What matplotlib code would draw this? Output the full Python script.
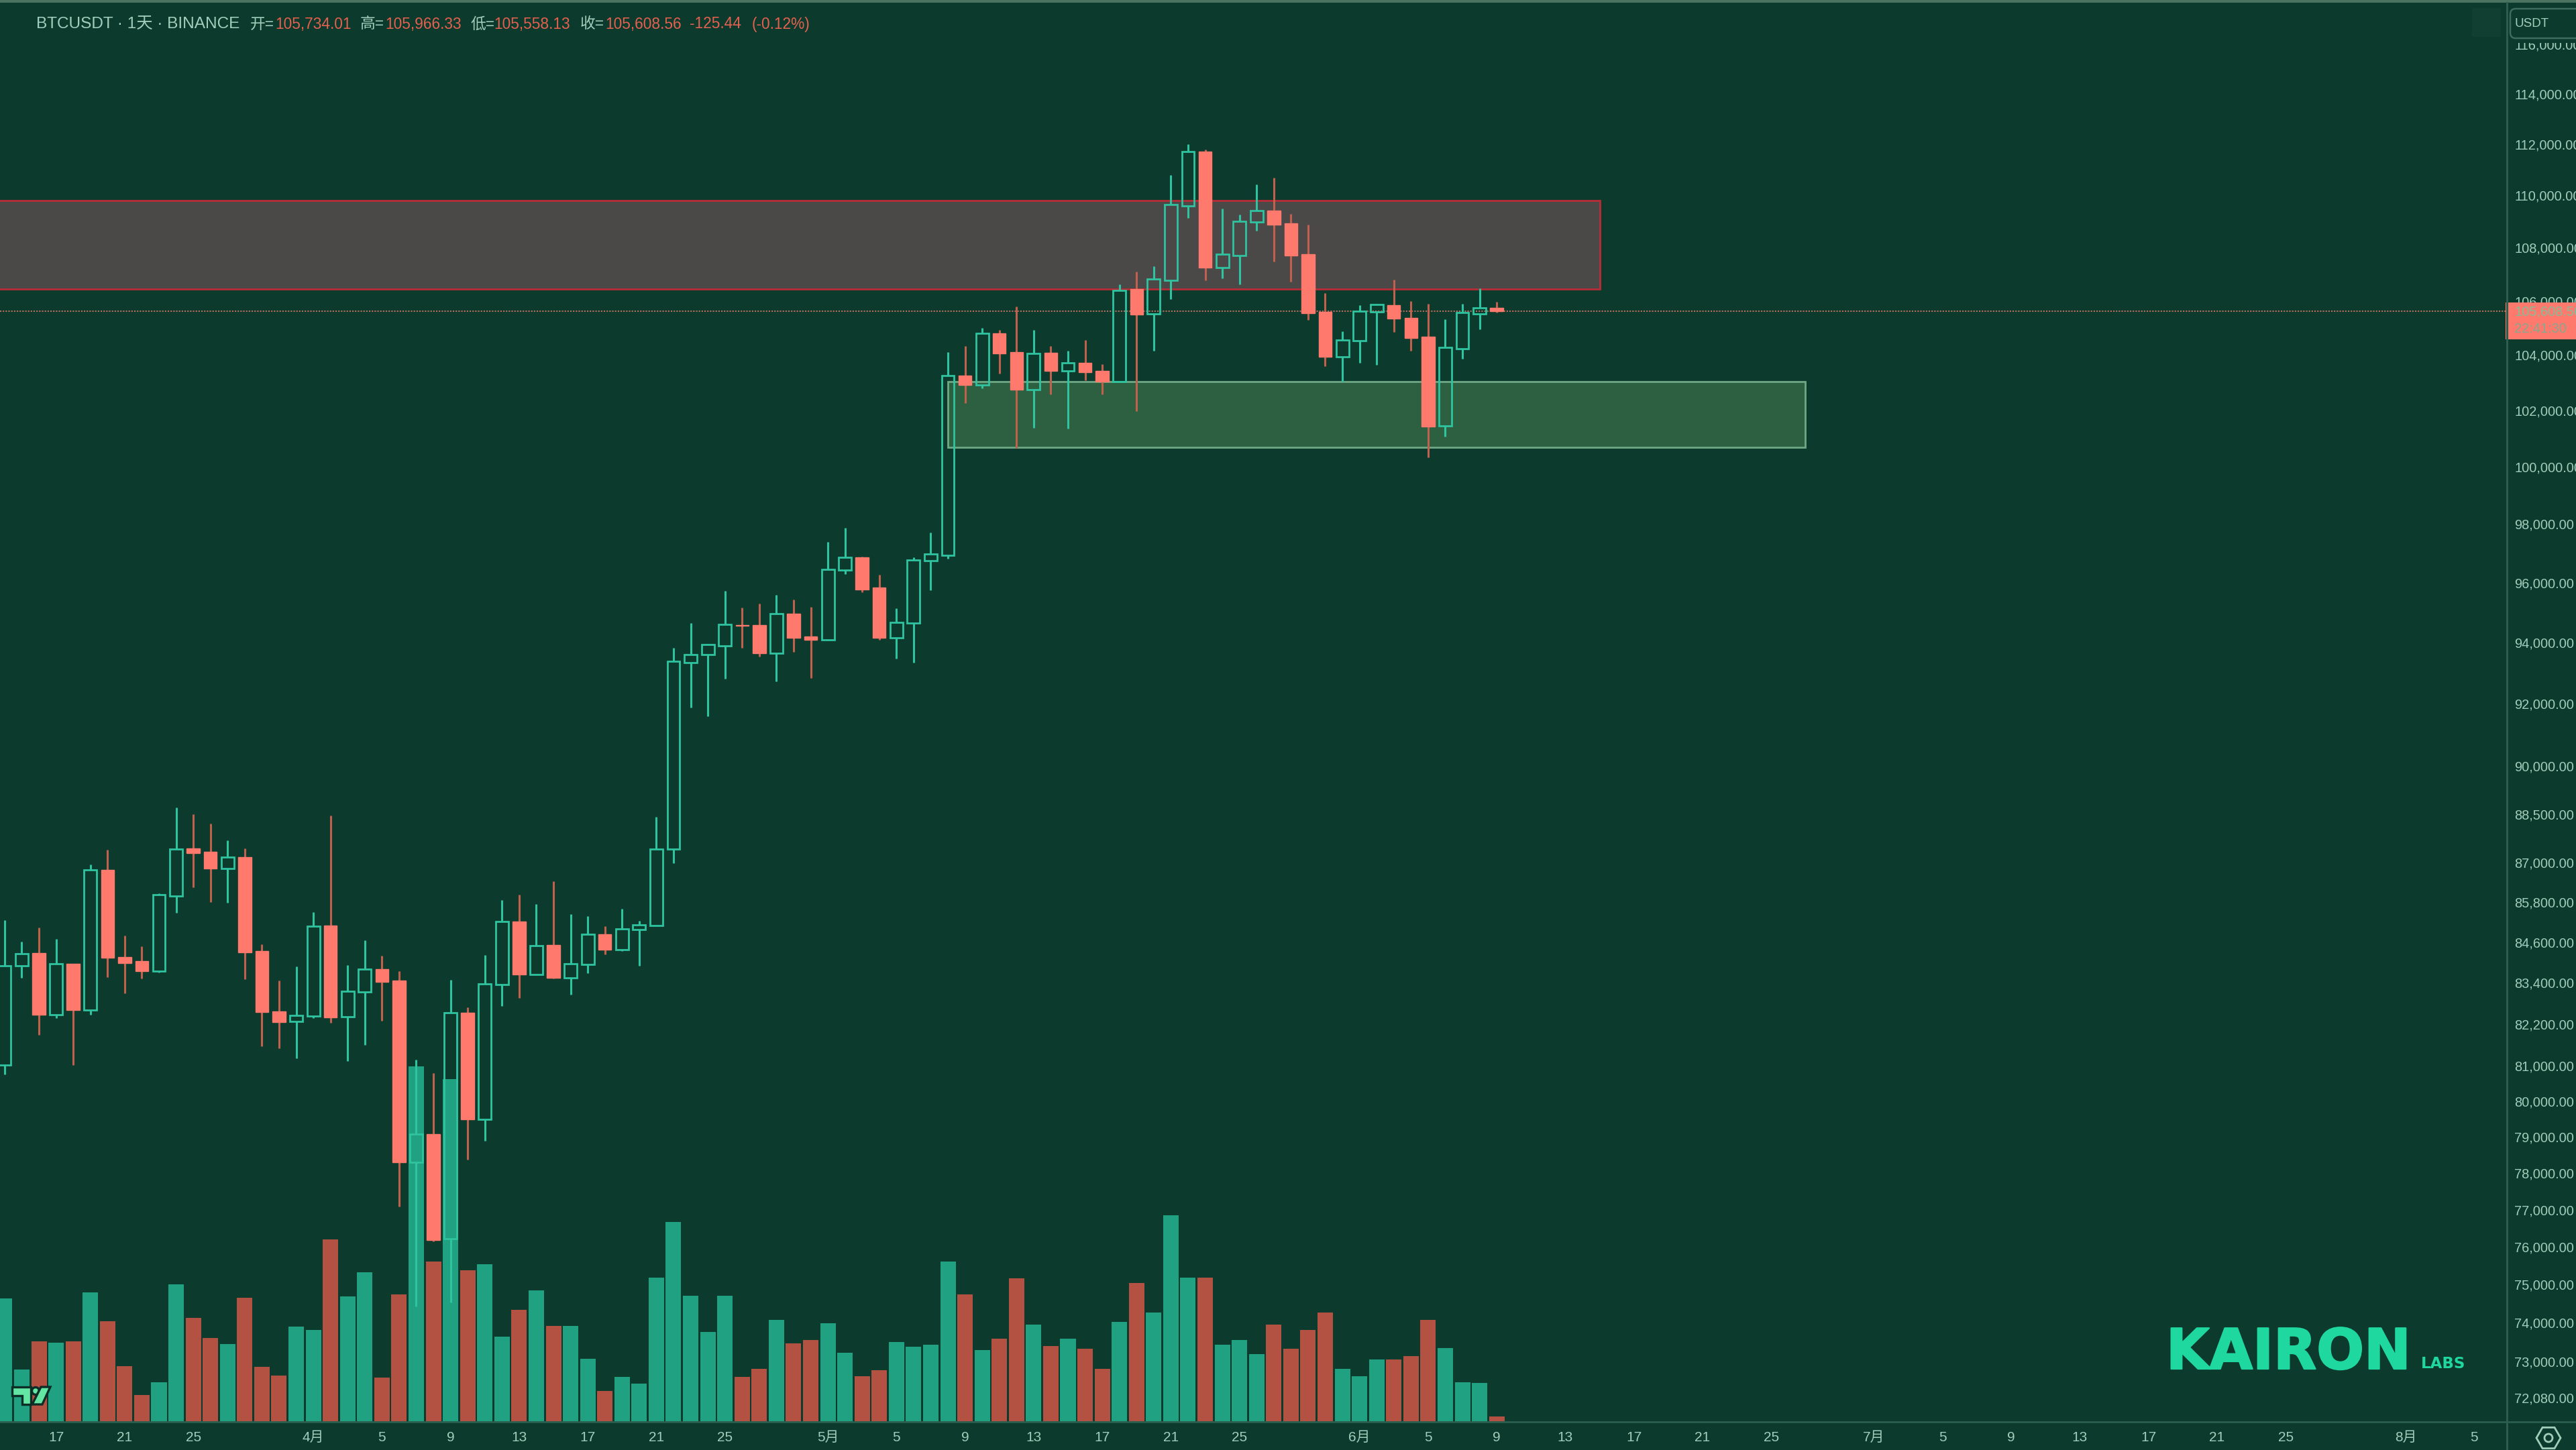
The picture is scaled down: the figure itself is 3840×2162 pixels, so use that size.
import numpy as np
import matplotlib
matplotlib.use('Agg')
import matplotlib.pyplot as plt
import matplotlib.patheffects as pe
from matplotlib.patches import Rectangle, FancyBboxPatch, Polygon, Circle, RegularPolygon
from matplotlib.ticker import NullLocator

plt.rcParams['font.family'] = ['Liberation Sans', 'Noto Sans CJK SC', 'DejaVu Sans']

# days counted from 1 April, one candle per day
days = list(range(-18, 70))

opens = [81026, 83896, 84278, 82459, 83949, 82596, 86773, 84151, 84036, 83731, 85990, 87428, 87321, 86826, 87174, 84329, 82559, 82272,
         82422, 85090, 82397, 83121, 83808, 83464, 78304, 79081, 76211, 82522, 79494, 83350, 85207, 83642, 84507, 83540, 83935, 84842, 84380, 84972, 85090,
         87414, 93340, 93591, 93877, 94586, 94567, 93647, 94954, 94208, 94089, 96427, 96860, 95825, 94153, 94641, 96747, 96935, 103246, 102911, 104784,
         104106, 102740, 104076, 103418, 103719, 103418, 103033, 106446, 105504, 106754, 109592, 111719, 107238, 107707, 108970, 109422, 108936, 107758,
         105580, 103932, 104526, 105580, 105837, 105362, 104664, 101432, 104233, 105504, 105734]
highs = [85246, 84621, 85025, 84685, 83949, 86933, 87388, 84790, 84469, 86055, 88697, 88483, 88189, 87681, 87440, 84532, 83464, 83884,
         85494, 88456, 83923, 84648, 84189, 83744, 81164, 80781, 83489, 82671, 84216, 85860, 86029, 85742, 86420, 85429, 85377, 85077, 85599, 85233, 88416,
         93829, 94650, 93962, 95712, 95147, 95303, 95576, 95426, 95184, 97376, 97866, 96880, 96267, 95138, 96860, 97713, 104106, 104326, 104981, 104919,
         105800, 104919, 104326, 104144, 104549, 103669, 106620, 107096, 107306, 110785, 112007, 111789, 109507, 109268, 110435, 110697, 109285, 108885,
         106288, 104871, 105837, 105887, 106796, 105987, 105887, 105321, 105887, 106471, 105966]
lows = [80757, 83540, 81874, 82372, 81026, 82472, 83565, 83095, 83527, 83700, 85468, 86250, 85794, 85768, 83501, 81562, 81500, 81214,
        82372, 82235, 81139, 81587, 82297, 77083, 74416, 76150, 74529, 78364, 78886, 82709, 82950, 83620, 83520, 83057, 83681, 84227, 84342, 83896, 85070,
        86990, 91880, 91597, 92812, 93813, 93537, 92731, 93693, 92839, 94070, 96295, 95680, 94089, 93463, 93325, 95746, 96813, 102255, 102790, 103312,
        100645, 101366, 102558, 101337, 103071, 102558, 103010, 101963, 104152, 106055, 109140, 106763, 106846, 106613, 108654, 107477, 106704, 105279,
        103583, 103030, 103721, 103640, 104838, 104152, 100330, 101051, 103851, 104934, 105558]
closes = [83896, 84252, 82472, 83949, 82596, 86773, 84125, 83985, 83744, 86029, 87414, 87281, 86813, 87174, 84303, 82534, 82247, 82447,
          85077, 82385, 83147, 83808, 83427, 78304, 79081, 76176, 82522, 79494, 83363, 85207, 83642, 84494, 83540, 83949, 84842, 84380, 84985, 85116, 87414,
          93385, 93607, 93924, 94595, 94560, 93647, 94954, 94162, 94089, 96456, 96860, 95755, 94162, 94668, 96766, 96973, 103246, 102911, 104784, 104051,
          102730, 104051, 103408, 103709, 103365, 103033, 106391, 105497, 106821, 109644, 111702, 107247, 107750, 108995, 109413, 108885, 107707, 105537,
          103932, 104558, 105621, 105862, 105329, 104623, 101424, 104274, 105554, 105734, 105608]
volumes = [30.7, 13.0, 20.0, 19.7, 20.0, 32.1, 25.0, 13.9, 6.7, 9.8, 34.1, 25.9, 20.9, 19.4, 30.9, 13.6, 11.5, 23.6,
           22.9, 45.3, 31.2, 37.2, 11.0, 31.7, 88.3, 39.9, 85.1, 37.6, 39.1, 21.2, 27.9, 32.6, 23.8, 23.9, 15.6, 7.7, 11.2, 9.5, 35.8,
           49.6, 31.3, 22.4, 31.3, 11.1, 13.1, 25.3, 19.5, 20.4, 24.5, 17.2, 11.3, 12.8, 19.8, 18.7, 19.2, 39.8, 31.6, 17.8, 20.7,
           35.7, 24.2, 18.9, 20.7, 18.1, 13.1, 24.9, 34.5, 27.2, 51.4, 35.9, 35.9, 19.2, 20.4, 16.9, 24.2, 18.1, 22.8,
           27.2, 13.1, 11.3, 15.5, 15.5, 16.3, 25.3, 18.4, 9.9, 9.6, 1.4]

price_ticks = [116000, 114000, 112000, 110000, 108000, 106000, 104000, 102000, 100000, 98000, 96000, 94000, 92000, 90000,
               88500, 87000, 85800, 84600, 83400, 82200, 81000, 80000, 79000, 78000, 77000, 76000, 75000, 74000, 73000, 72080]
date_ticks = [-15, -11, -7, 0, 4, 8, 12, 16, 20, 24, 30, 34, 38, 42, 46, 50, 54, 61, 65, 69, 73, 77, 81, 85,
              91, 95, 99, 103, 107, 111, 115, 122, 126]
date_labels = ['17', '21', '25', '4月', '5', '9', '13', '17', '21', '25', '5月', '5', '9', '13', '17', '21', '25',
               '6月', '5', '9', '13', '17', '21', '25', '7月', '5', '9', '13', '17', '21', '25', '8月', '5']

# supply and demand boxes: first day, last day, low, high
red_zone = (-25, 75, 106446, 109806)
green_zone = (37, 87, 100665, 103036)

header_parts = [('BTCUSDT · 1天 · BINANCE', 54, 'title'), ('开=', 373, 'label'), ('105,734.01', 410, 'value'),
                ('高=', 537, 'label'), ('105,966.33', 574, 'value'), ('低=', 701, 'label'), ('105,558.13', 736, 'value'),
                ('收=', 865, 'label'), ('105,608.56', 902, 'value'), ('-125.44', 1028, 'value'), ('(-0.12%)', 1121, 'value')]

BG = '#0c3a2d'
UP = '#2fc3a0'
DOWN = '#ff7a6c'
DOWN_WICK = '#c0604f'
VOL_UP = '#20a182'
VOL_DOWN = '#b35243'
TEXT = '#a3cdbb'
LINE = '#2b5e4e'

W, H = 3840, 2162
PANE_R, PANE_B = 3737, 2120

fig = plt.figure(figsize=(W / 100, H / 100), dpi=100, facecolor=BG)

# volume underneath, candles on top
ax_vol = fig.add_axes([0, 1 - PANE_B / H, PANE_R / W, PANE_B / H], facecolor=BG)
ax = fig.add_axes([0, 1 - PANE_B / H, PANE_R / W, PANE_B / H], sharex=ax_vol)
ax.patch.set_visible(False)

days_arr = np.array(days)
o, h, l, c = map(np.array, (opens, highs, lows, closes))
up = c >= o

ax_vol.bar(days_arr, volumes, width=0.9, color=[VOL_UP if u else VOL_DOWN for u in up], linewidth=0)
ax_vol.set_ylim(0, PANE_B / 6)
ax_vol.axis('off')

ax.set_yscale('log')
ax.set_ylim(71465, 117828)
ax.set_xlim(-18.27, 127.9)

for zone, face, edge in [(red_zone, (224 / 255, 111 / 255, 135 / 255, 0.3), '#b92c36'),
                         (green_zone, (115 / 255, 178 / 255, 108 / 255, 0.32), '#6fa884')]:
    ax.add_patch(Rectangle((zone[0], zone[2]), zone[1] - zone[0], zone[3] - zone[2],
                           facecolor=face, edgecolor=edge, linewidth=2.0, zorder=1))

ax.axhline(c[-1], color='#f0806f', linestyle=(0, (1, 1)), linewidth=1.5, alpha=0.75, zorder=2)

body_top = np.maximum(o, c)
body_bot = np.minimum(o, c)
wick_col = [UP if u else DOWN_WICK for u in up]
ax.vlines(days_arr, body_top, h, colors=wick_col, linewidth=2.2, zorder=3)
ax.vlines(days_arr, l, body_bot, colors=wick_col, linewidth=2.2, zorder=3)
ax.bar(days_arr[up], (body_top - body_bot)[up], bottom=body_bot[up], width=0.74,
       facecolor='none', edgecolor=UP, linewidth=2.0, zorder=4)
ax.bar(days_arr[~up], (body_top - body_bot)[~up], bottom=body_bot[~up], width=0.76,
       facecolor=DOWN, edgecolor=DOWN, linewidth=1.0, zorder=4)

ax.yaxis.tick_right()
ax.set_yticks(price_ticks)
ax.set_yticklabels([f'{p:,.2f}' for p in price_ticks], fontsize=14.4, color=TEXT)
ax.yaxis.set_minor_locator(NullLocator())
ax.yaxis.set_minor_formatter(plt.NullFormatter())
ax.set_xticks(date_ticks)
ax.set_xticklabels(date_labels, fontsize=15, color=TEXT)
ax.tick_params(axis='both', length=0, labelcolor=TEXT)
ax.tick_params(axis='y', pad=8)
ax.tick_params(axis='x', pad=10)
for s in ax.spines.values():
    s.set_visible(False)

# everything around the chart drawn in image pixels
ui = fig.add_axes([0, 0, 1, 1], facecolor='none')
ui.set_xlim(0, W)
ui.set_ylim(H, 0)
ui.axis('off')

ui.add_patch(Rectangle((0, 0), W, 4, facecolor='#4a7361', linewidth=0))
ui.plot([PANE_R, PANE_R], [4, H], color=LINE, linewidth=2.2)
ui.plot([0, W], [PANE_B, PANE_B], color=LINE, linewidth=2.0)
ui.add_patch(Rectangle((3685, 12), 43, 43, facecolor='#113f31', linewidth=0))

# USDT button covers the top of the scale
ui.add_patch(Rectangle((PANE_R + 2, 4), W - PANE_R, 60, facecolor=BG, linewidth=0))
ui.add_patch(FancyBboxPatch((3746, 17), 130, 36, boxstyle='round,pad=4,rounding_size=8',
                            facecolor=BG, edgecolor='#3f6d5d', linewidth=1.8))
ui.text(3748, 35, 'USDT', fontsize=13.5, color=TEXT, va='center', ha='left')

# last price tag
ui.add_patch(Rectangle((3735, 451), 110, 55, facecolor=DOWN, linewidth=0))
ui.text(3748, 465, '105,608.56', fontsize=14.4, color='#85bd9a', va='center', ha='left')
ui.text(3748, 490, '22:41:30', fontsize=14.4, color='#85a890', va='center', ha='left')

header_style = {'title': (17.6, TEXT), 'label': (16.4, TEXT), 'value': (16.4, '#e4604f')}
for txt, x, kind in header_parts:
    size, col = header_style[kind]
    ui.text(x, 36, txt, fontsize=size, color=col, va='center', ha='left')

heavy = [pe.withStroke(linewidth=1.6, foreground='#1fd8a0')]
ui.text(3229, 2041, 'KAIRON', fontsize=60, fontweight='bold', family='DejaVu Sans', color='#1fd8a0',
        va='baseline', ha='left', path_effects=heavy)
ui.text(3609, 2040, 'LABS', fontsize=16.5, fontweight='bold', family='DejaVu Sans', color='#1fd8a0', va='baseline', ha='left')

# TradingView mark
mark = dict(facecolor='#63e6a3', edgecolor='#0c2e26', linewidth=2.4, zorder=5)
ui.add_patch(Polygon([(18, 2068), (46, 2068), (46, 2094), (33, 2094), (33, 2081), (18, 2081)], **mark))
ui.add_patch(Circle((53, 2074), 5.5, **mark))
ui.add_patch(Polygon([(61, 2068), (75, 2068), (63, 2094), (48, 2094)], **mark))

# eye icon
ui.add_patch(RegularPolygon((3799, 2144), 6, radius=18, orientation=np.pi / 6, facecolor='none', edgecolor=TEXT, linewidth=2.0))
ui.add_patch(Circle((3799, 2144), 6, facecolor='none', edgecolor=TEXT, linewidth=2.0))

fig.savefig('out.png', dpi=100, facecolor=BG)
